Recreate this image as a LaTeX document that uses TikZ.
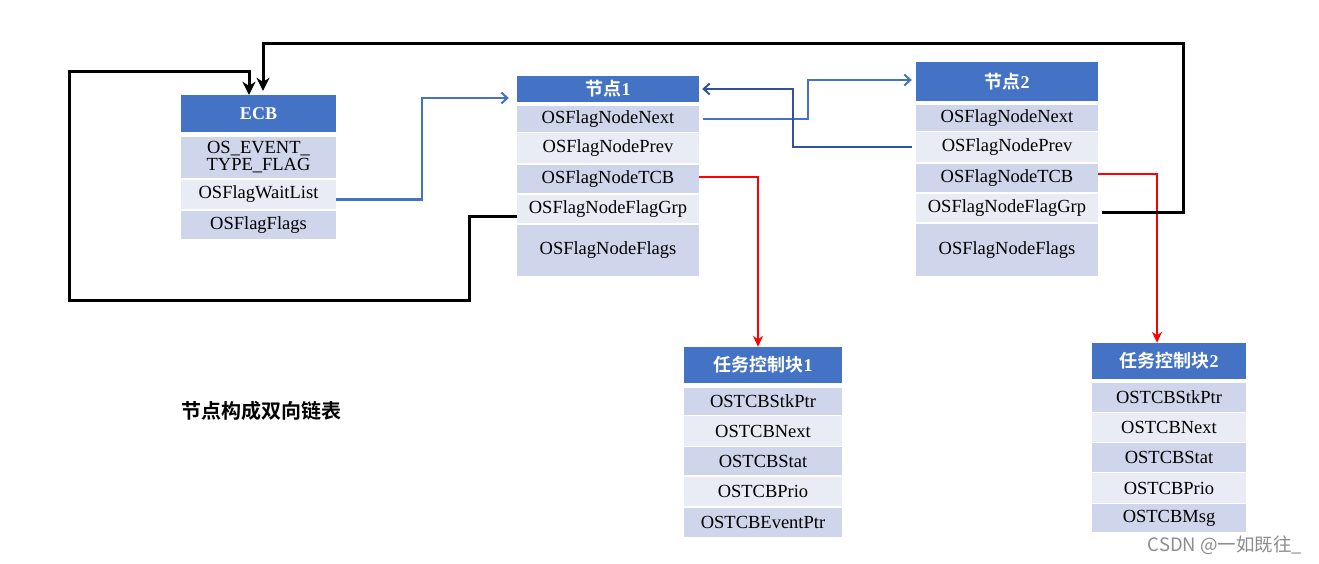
\documentclass[tikz,border=0pt]{standalone}
\usepackage{fontspec}
\setmainfont{Liberation Serif}
\newfontfamily\cjk{Noto Sans CJK SC}[BoldFont={Noto Sans CJK SC Bold}]
\usetikzlibrary{arrows.meta}

\definecolor{hdrblue}{HTML}{4472C4}
\definecolor{rowdark}{HTML}{CFD5EA}
\definecolor{rowlight}{HTML}{E9EBF5}
\definecolor{linkblue}{HTML}{4472C4}
\definecolor{backblue}{HTML}{2F5597}

\begin{document}
\begin{tikzpicture}[x=1pt,y=-1pt,>={Stealth[length=13pt,width=13pt,inset=4pt]},
	hdr/.style={rectangle,fill=hdrblue,text=white,inner sep=0pt,font=\fontsize{18}{20}\selectfont\bfseries},
	rowa/.style={rectangle,fill=rowdark,inner sep=0pt,align=center,font=\fontsize{18.5}{17}\selectfont},
	rowb/.style={rowa,fill=rowlight},
	loopline/.style={line width=3pt,->},
	nextline/.style={line width=2.2pt,draw=linkblue,-{Straight Barb[length=6pt,width=11pt,line width=2pt]}},
	prevline/.style={nextline,draw=backblue},
	tcbline/.style={line width=2.2pt,draw=red,-{Stealth[length=11pt,width=10pt]}}]

	\useasboundingbox (0,0) rectangle (1319,563);

	% ECB
	\begin{scope}[every node/.append style={minimum width=155pt}]
	\node[hdr,minimum height=37pt] (ecbhead) at (258.5,113.5) {ECB};
	\node[rowa,minimum height=41pt] (ecbtype) at (258.5,157.5) {OS\_EVENT\_\\TYPE\_FLAG};
	\node[rowb,minimum height=29pt] (ecbwait) at (258.5,194.5) {OSFlagWaitList};
	\node[rowa,minimum height=28pt] (ecbflags) at (258.5,225) {OSFlagFlags};
	\end{scope}

	% node 1
	\begin{scope}[every node/.append style={minimum width=182pt}]
	\node[hdr,minimum height=26pt] (n1head) at (608,89) {{\cjk 节点}1};
	\node[rowa,minimum height=26pt] (n1next) at (608,119) {OSFlagNodeNext};
	\node[rowb,minimum height=30pt] (n1prev) at (608,148) {OSFlagNodePrev};
	\node[rowa,minimum height=28pt] (n1tcb) at (608,179) {OSFlagNodeTCB};
	\node[rowb,minimum height=28pt] (n1grp) at (608,209) {OSFlagNodeFlagGrp};
	\node[rowa,minimum height=51pt] (n1flags) at (608,250.5) {OSFlagNodeFlags};
	\end{scope}

	% node 2
	\begin{scope}[every node/.append style={minimum width=182pt}]
	\node[hdr,minimum height=39pt] (n2head) at (1007,81.5) {{\cjk 节点}2};
	\node[rowa,minimum height=26pt] (n2next) at (1007,118) {OSFlagNodeNext};
	\node[rowb,minimum height=30pt] (n2prev) at (1007,147) {OSFlagNodePrev};
	\node[rowa,minimum height=28pt] (n2tcb) at (1007,178) {OSFlagNodeTCB};
	\node[rowb,minimum height=28pt] (n2grp) at (1007,208) {OSFlagNodeFlagGrp};
	\node[rowa,minimum height=52pt] (n2flags) at (1007,250) {OSFlagNodeFlags};
	\end{scope}

	% task control block 1
	\begin{scope}[every node/.append style={minimum width=158pt}]
	\node[hdr,minimum height=36pt] (t1head) at (763,365) {{\cjk 任务控制块}1};
	\node[rowa,minimum height=27pt] (t1stk) at (763,401.5) {OSTCBStkPtr};
	\node[rowb,minimum height=30pt] (t1next) at (763,431) {OSTCBNext};
	\node[rowa,minimum height=28pt] (t1stat) at (763,461) {OSTCBStat};
	\node[rowb,minimum height=29pt] (t1prio) at (763,491.5) {OSTCBPrio};
	\node[rowa,minimum height=29pt] (t1evt) at (763,522.5) {OSTCBEventPtr};
	\end{scope}

	% task control block 2
	\begin{scope}[every node/.append style={minimum width=154pt}]
	\node[hdr,minimum height=36pt] (t2head) at (1169,361) {{\cjk 任务控制块}2};
	\node[rowa,minimum height=29pt] (t2stk) at (1169,397.5) {OSTCBStkPtr};
	\node[rowb,minimum height=29pt] (t2next) at (1169,427.5) {OSTCBNext};
	\node[rowa,minimum height=29pt] (t2stat) at (1169,457.5) {OSTCBStat};
	\node[rowb,minimum height=30pt] (t2prio) at (1169,488) {OSTCBPrio};
	\node[rowa,minimum height=28pt] (t2msg) at (1169,518) {OSTCBMsg};
	\end{scope}

	\node[font=\cjk\bfseries\fontsize{20}{22}\selectfont] (caption) at (261,411) {节点构成双向链表};
	\node[font=\cjk\fontsize{18.5}{20}\selectfont,text=black!45] (mark) at (1225,545) {CSDN @一如既往\_};

	% links
	\draw[nextline] ([yshift=-5pt]ecbwait.east) -| (422,98) -- ([xshift=-8pt,yshift=-9pt]n1head.west);
	\draw[nextline] ([xshift=4pt]n1next.east) -| (808,80) -- ([xshift=-4pt,yshift=1.5pt]n2head.west);
	\draw[prevline] ([xshift=-4pt]n2prev.west) -| (793,89) -- ([xshift=3pt]n1head.east);
	\draw[tcbline] ([yshift=2pt]n1tcb.east) -| ([xshift=-5pt]t1head.north);
	\draw[tcbline] ([yshift=4pt]n2tcb.east) -| ([xshift=-12pt]t2head.north);
	\draw[loopline] ([yshift=-7pt]n1grp.west) -| (469,300) -| (69,71) -| ([xshift=-9.5pt]ecbhead.north);
	\draw[loopline] ([xshift=4pt,yshift=-4pt]n2grp.east) -| (1183,43) -| ([xshift=4.5pt,yshift=4pt]ecbhead.north);
\end{tikzpicture}
\end{document}
